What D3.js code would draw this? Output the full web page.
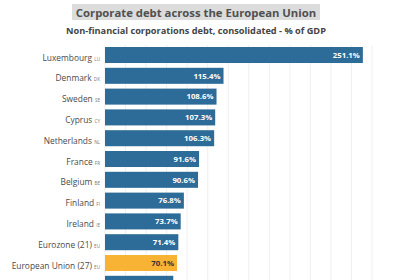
<!DOCTYPE html>
<html>
<head>
<meta charset="utf-8">
<script src="https://cdn.jsdelivr.net/npm/d3@7"></script>
<style>
  body { margin: 0; background: #fff; }
  svg { display: block; font-family: "Open Sans", sans-serif; }
</style>
</head>
<body>
<div id="chart"></div>
<script>
// chart data
const countries = ["Luxembourg", "Denmark", "Sweden", "Cyprus", "Netherlands", "France",
                   "Belgium", "Finland", "Ireland", "Eurozone (21)", "European Union (27)", "Austria"];
const codes = ["LU", "DK", "SE", "CY", "NL", "FR", "BE", "FI", "IE", "EU", "EU", "AT"];
const debt = [251.1, 115.4, 108.6, 107.3, 106.3, 91.6, 90.6, 76.8, 73.7, 71.4, 70.1, 66.5];
const gridTicks = [0, 20, 40, 60, 80, 100, 120, 140, 160, 180, 200, 220, 240, 260];
const highlight = "European Union (27)";

const W = 420, H = 280;
const margin = { top: 45, left: 105 };
const step = 20.8;

const svg = d3.select("#chart").append("svg")
    .attr("width", W).attr("height", H);

// title with grey band behind it
const title = svg.append("g");
title.append("rect")
    .attr("x", 72).attr("y", 4)
    .attr("width", 248).attr("height", 16)
    .attr("fill", "#dcdcdc");
title.append("text")
    .attr("x", 196).attr("y", 16.5)
    .attr("text-anchor", "middle")
    .attr("font-size", 11.3).attr("font-weight", "bold")
    .attr("fill", "#505050")
    .text("Corporate debt across the European Union");

svg.append("text")
    .attr("x", 196).attr("y", 33.5)
    .attr("text-anchor", "middle")
    .attr("font-size", 9.2).attr("font-weight", "bold")
    .attr("fill", "#444")
    .text("Non-financial corporations debt, consolidated - % of GDP");

let x = d3.scaleLinear().domain([0, 260]).range([margin.left, 372]);
let y = d3.scaleBand().domain(countries)
    .range([margin.top + 2, margin.top + 2 + step * (countries.length - 0.23)])
    .paddingInner(0.23).paddingOuter(0);

let plot = svg.append("g");

// vertical grid
plot.append("g").selectAll("line").data(gridTicks).join("line")
    .attr("x1", d => x(d)).attr("x2", d => x(d))
    .attr("y1", margin.top).attr("y2", H)
    .attr("stroke", "#efefef").attr("stroke-width", 1);

let rows = plot.append("g").selectAll("g").data(countries).join("g");

rows.append("rect")
    .attr("x", x(0))
    .attr("y", d => y(d))
    .attr("width", (d, i) => x(debt[i]) - x(0))
    .attr("height", y.bandwidth())
    .attr("fill", d => d == highlight ? "#f8b234" : "#2d6b98");

// only rows whose middle is inside the frame get texts (last bar is cut off)
let shown = rows.filter(d => y(d) + y.bandwidth() / 2 < H);

shown.append("text")
    .attr("x", d => x(debt[countries.indexOf(d)]) - 3)
    .attr("y", d => y(d) + y.bandwidth() / 2)
    .attr("dy", "0.35em")
    .attr("text-anchor", "end")
    .attr("font-size", 7.8).attr("font-weight", "bold")
    .attr("fill", d => d == highlight ? "#333" : "#fff")
    .text(d => debt[countries.indexOf(d)].toFixed(1) + "%");

// country labels with small code after the name
let lab = shown.append("text")
    .attr("x", x(0) - 5)
    .attr("y", d => y(d) + y.bandwidth() / 2)
    .attr("dy", "0.35em")
    .attr("text-anchor", "end")
    .attr("fill", "#4a4a4a");
lab.append("tspan").attr("font-size", 8.4).text(d => d + " ");
lab.append("tspan").attr("font-size", 4.6).attr("fill", "#777").text(d => codes[countries.indexOf(d)]);
</script>
</body>
</html>
